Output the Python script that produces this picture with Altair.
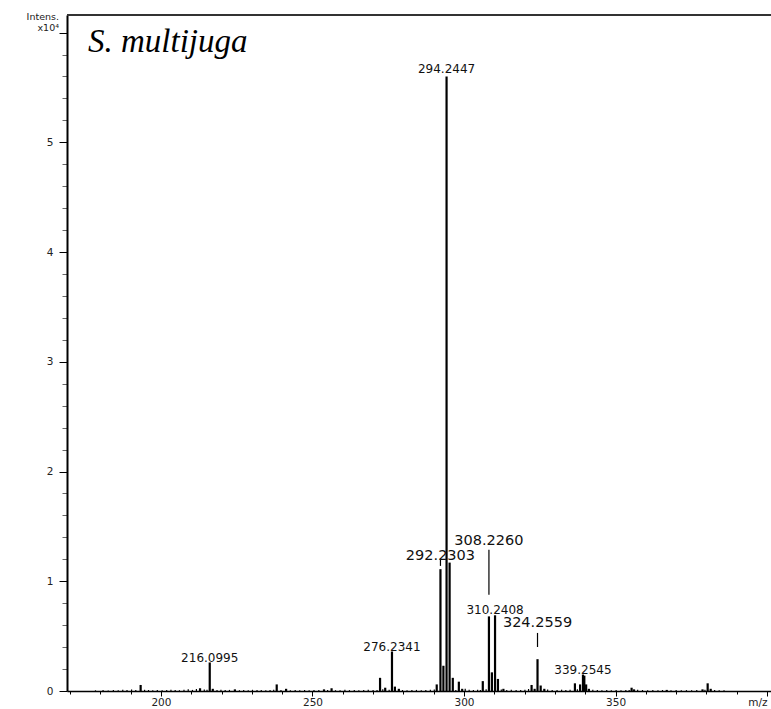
import altair as alt
import pandas as pd

# ---- data (intensity in units of 10^4) ----
peak_mz = [193.3, 212.9, 216.0995, 217.1, 224.4, 238.2, 241.3, 253.8, 256.3, 272.3,
           274.0, 276.2341, 277.2, 278.5, 291.0, 292.2303, 293.2, 294.2447, 295.25, 296.3,
           298.3, 299.4, 306.2, 308.2260, 309.2, 310.2408, 311.2, 313.0, 322.3, 323.3,
           324.2559, 325.3, 326.5, 336.6, 338.3, 339.2545, 339.7, 340.3, 341.2, 355.3,
           356.1, 366.9, 378.7, 380.4, 381.4]
peak_int = [0.055, 0.025, 0.26, 0.02, 0.015, 0.06, 0.02, 0.015, 0.025, 0.12,
            0.03, 0.36, 0.04, 0.02, 0.06, 1.11, 0.23, 5.60, 1.17, 0.12,
            0.085, 0.02, 0.09, 0.68, 0.17, 0.69, 0.11, 0.02, 0.055, 0.02,
            0.29, 0.05, 0.02, 0.07, 0.06, 0.15, 0.14, 0.06, 0.02, 0.03,
            0.015, 0.01, 0.015, 0.07, 0.02]

noise_mz = [178.4, 180.9, 182.6, 184.3, 185.9, 187.4, 188.8, 190.3, 191.7, 194.6,
            195.9, 197.3, 198.8, 200.4, 201.9, 203.3, 204.7, 206.1, 207.6, 209.0,
            210.4, 211.7, 214.3, 215.2, 218.5, 219.8, 221.2, 222.6, 225.9, 227.3,
            228.8, 230.2, 231.7, 233.1, 234.6, 236.0, 237.2, 239.6, 242.7, 244.3,
            245.8, 247.4, 248.9, 250.5, 252.1, 255.0, 257.6, 259.1, 260.7, 262.2,
            263.8, 265.3, 266.9, 268.4, 270.0, 271.3, 273.2, 275.3, 279.7, 281.2,
            282.8, 284.3, 285.9, 287.4, 288.9, 290.2, 297.3, 300.4, 301.7, 303.1,
            304.5, 305.4, 307.3, 312.3, 314.1, 315.6, 317.2, 318.7, 320.1, 321.3,
            327.6, 329.1, 330.7, 332.2, 333.6, 335.0, 337.4, 342.5, 344.0, 345.5,
            347.1, 348.6, 350.2, 351.8, 353.4, 354.5, 357.3, 358.9, 360.6, 362.3,
            364.0, 365.5, 368.3, 370.0, 371.7, 373.4, 375.1, 376.8, 379.5, 382.7,
            384.2, 385.8]
noise_int = [0.006, 0.008, 0.005, 0.009, 0.007, 0.012, 0.010, 0.014, 0.008, 0.011,
             0.009, 0.007, 0.010, 0.006, 0.008, 0.011, 0.009, 0.007, 0.012, 0.015,
             0.010, 0.018, 0.013, 0.011, 0.009, 0.012, 0.008, 0.010, 0.007, 0.009,
             0.006, 0.011, 0.008, 0.010, 0.007, 0.009, 0.012, 0.010, 0.006, 0.008,
             0.007, 0.009, 0.006, 0.008, 0.010, 0.009, 0.007, 0.006, 0.011, 0.008,
             0.010, 0.007, 0.009, 0.012, 0.008, 0.010, 0.015, 0.011, 0.009, 0.007,
             0.008, 0.010, 0.006, 0.009, 0.012, 0.014, 0.010, 0.020, 0.012, 0.009,
             0.011, 0.008, 0.016, 0.013, 0.009, 0.011, 0.008, 0.010, 0.012, 0.018,
             0.014, 0.010, 0.009, 0.012, 0.008, 0.011, 0.016, 0.012, 0.009, 0.007,
             0.008, 0.006, 0.009, 0.007, 0.010, 0.008, 0.012, 0.009, 0.007, 0.008,
             0.006, 0.009, 0.007, 0.010, 0.006, 0.008, 0.007, 0.009, 0.011, 0.008,
             0.007, 0.006]

label_text = ["294.2447", "292.2303", "308.2260", "310.2408",
              "324.2559", "339.2545", "276.2341", "216.0995"]
label_mz = [294.2447, 292.2303, 308.2260, 310.2408, 324.2559, 339.2545, 276.2341, 216.0995]
label_y = [5.666, 1.232, 1.369, 0.739, 0.620, 0.192, 0.401, 0.301]
label_big = [False, True, True, False, True, False, False, False]

leader_mz = [292.2303, 308.2260, 324.2559]
leader_top = [1.204, 1.286, 0.529]
leader_bottom = [1.140, 0.876, 0.401]

x_ticks = [170, 180, 190, 200, 210, 220, 230, 240, 250, 260, 270, 280, 290, 300,
           310, 320, 330, 340, 350, 360, 370, 380, 390, 400]
y_ticks = [0, 0.2, 0.4, 0.6, 0.8, 1, 1.2, 1.4, 1.6, 1.8, 2, 2.2, 2.4, 2.6, 2.8, 3,
           3.2, 3.4, 3.6, 3.8, 4, 4.2, 4.4, 4.6, 4.8, 5, 5.2, 5.4, 5.6, 5.8, 6]

species = ["S. multijuga"]
unit_line1 = ["Intens."]
unit_line2 = ["x10\u2074"]

X_DOMAIN = [169.0, 401.3]
Y_DOMAIN = [0, 6.16]

peaks = pd.DataFrame({"mz": peak_mz, "inten": peak_int})
noise = pd.DataFrame({"mz": noise_mz, "inten": noise_int})
labels = pd.DataFrame({"mz": label_mz, "y": label_y, "text": label_text, "big": label_big})
leaders = pd.DataFrame({"mz": leader_mz, "top": leader_top, "bottom": leader_bottom})

xscale = alt.Scale(domain=X_DOMAIN, nice=False, zero=False)
yscale = alt.Scale(domain=Y_DOMAIN, nice=False, zero=False)

x_axis = alt.Axis(
    values=x_ticks, orient="bottom", title=None, grid=False,
    domainColor="#000000", domainWidth=1.5,
    tickColor="#000000", tickWidth=1,
    tickSize={"condition": {"test": "datum.value % 50 == 0", "value": 5}, "value": 3},
    labelExpr="datum.value % 50 == 0 ? (datum.value == 400 ? 'm/z' : format(datum.value, 'd')) : ''",
    labelAlign={"condition": {"test": "datum.value == 400", "value": "right"}, "value": "center"},
    labelFont="DejaVu Sans", labelFontSize=10.5, labelColor="#222222", labelPadding=1,
    labelOverlap=False, labelFlush=False, labelBound=False,
)
y_axis = alt.Axis(
    values=y_ticks, orient="left", title=None, grid=False,
    domainColor="#000000", domainWidth=2,
    tickColor={"condition": {"test": "datum.value % 1 == 0", "value": "#000000"}, "value": "#666666"},
    tickWidth=1,
    tickSize={"condition": {"test": "datum.value % 1 == 0", "value": 8}, "value": 5},
    labelExpr="(datum.value % 1 == 0 && datum.value < 6) ? format(datum.value, 'd') : ''",
    labelFont="DejaVu Sans", labelFontSize=10.5, labelColor="#222222", labelPadding=6,
    labelOverlap=False, labelFlush=False, labelBound=False,
)

X = lambda f: alt.X(f, scale=xscale, axis=x_axis)
Y = lambda f: alt.Y(f, scale=yscale, axis=y_axis)

sticks = alt.Chart(peaks).mark_rule(color="#000000", strokeWidth=2.2).encode(
    x=X("mz:Q"), y=Y("inten:Q"), y2=alt.datum(0),
)

noise_sticks = alt.Chart(noise).mark_rule(color="#000000", strokeWidth=1.2).encode(
    x=X("mz:Q"), y=Y("inten:Q"), y2=alt.datum(0),
)

leader_lines = alt.Chart(leaders).mark_rule(color="#000000", strokeWidth=1.2).encode(
    x=X("mz:Q"), y=Y("top:Q"), y2="bottom:Q",
)

small_labels = alt.Chart(labels).transform_filter("!datum.big").mark_text(
    font="DejaVu Sans", fontSize=12, color="#111111", baseline="middle", align="center"
).encode(x=X("mz:Q"), y=Y("y:Q"), text="text:N")

big_labels = alt.Chart(labels).transform_filter("datum.big").mark_text(
    font="DejaVu Sans", fontSize=14.5, color="#111111", baseline="middle", align="center"
).encode(x=X("mz:Q"), y=Y("y:Q"), text="text:N")

top_frame = alt.Chart(pd.DataFrame({"k": [0]})).mark_rule(color="#333333", strokeWidth=2).encode(
    x=alt.value(0), x2=alt.value(704), y=alt.value(0)
)

species_text = alt.Chart(pd.DataFrame({"t": species})).mark_text(
    font="Liberation Serif", fontStyle="italic", fontSize=33, color="#000000",
    align="left", baseline="alphabetic"
).encode(x=alt.value(21), y=alt.value(37), text="t:N")

unit_text1 = alt.Chart(pd.DataFrame({"t": unit_line1})).mark_text(
    font="DejaVu Sans", fontSize=9.5, color="#222222", align="right", baseline="middle"
).encode(x=alt.value(-8), y=alt.value(2), text="t:N")

unit_text2 = alt.Chart(pd.DataFrame({"t": unit_line2})).mark_text(
    font="DejaVu Sans", fontSize=9.5, color="#222222", align="right", baseline="middle"
).encode(x=alt.value(-8), y=alt.value(13), text="t:N")

chart = alt.layer(
    sticks, noise_sticks, leader_lines, small_labels, big_labels,
    top_frame, species_text, unit_text1, unit_text2
).properties(
    width=704, height=676,
    autosize=alt.AutoSizeParams(type="none"),
    padding={"left": 67, "top": 15, "right": 0, "bottom": 18},
).configure_view(stroke=None).configure(background="white")

chart.save("out.html", embed_options={"renderer": "svg", "actions": False})
